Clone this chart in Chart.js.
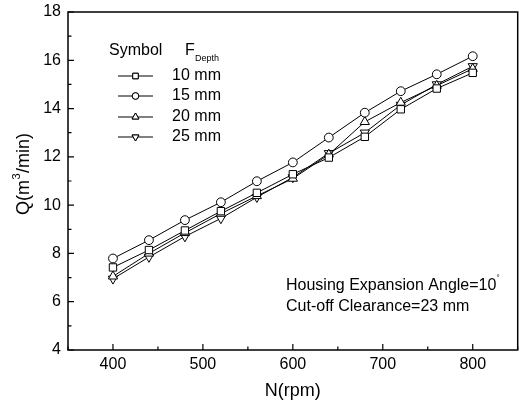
<!DOCTYPE html>
<html>
<head>
<meta charset="utf-8">
<script src="https://cdn.jsdelivr.net/npm/chart.js@4.4.1/dist/chart.umd.min.js"></script>
<style>
  html, body { margin: 0; padding: 0; background: #fff; }
  #wrap { width: 524px; height: 402px; position: relative; }
</style>
</head>
<body>
<div id="wrap"><canvas id="chart" width="524" height="402"></canvas></div>
<script>
// data
const speeds = [400, 440, 480, 520, 560, 600, 640, 680, 720, 760, 800];
const q10 = [7.42, 8.14, 8.95, 9.75, 10.51, 11.28, 11.97, 12.83, 13.97, 14.83, 15.48];
const q15 = [7.79, 8.55, 9.38, 10.12, 10.99, 11.77, 12.80, 13.83, 14.72, 15.42, 16.17];
const q20 = [7.05, 8.00, 8.85, 9.65, 10.38, 11.10, 12.10, 13.45, 14.25, 14.95, 15.65];
const q25 = [6.95, 7.85, 8.70, 9.45, 10.33, 11.15, 12.15, 13.00, 14.15, 15.00, 15.75];
const xTicks = [400, 500, 600, 700, 800];
const yTicks = [4, 6, 8, 10, 12, 14, 16, 18];
const depthLabels = ['10 mm', '15 mm', '20 mm', '25 mm'];

const FONT = '"Liberation Sans", Arial, sans-serif';

function pts(ys) {
  return speeds.map((x, i) => ({ x: x, y: ys[i] }));
}

function series(label, ys, style, radius, rot) {
  return {
    label: label,
    data: pts(ys),
    borderColor: '#000',
    borderWidth: 1,
    backgroundColor: '#fff',
    pointStyle: style,
    pointRadius: radius,
    pointRotation: rot || 0,
    pointBorderWidth: 1,
    pointBorderColor: '#000',
    pointBackgroundColor: '#fff',
    tension: 0
  };
}

const markers = [
  { style: 'rect', r: 5.2, rot: 0 },
  { style: 'circle', r: 4.4, rot: 0 },
  { style: 'triangle', r: 5.3, rot: 0 },
  { style: 'triangle', r: 5.3, rot: 180 }
];

// inward ticks, tick labels, frame, legend box and notes
const decor = {
  id: 'decor',
  afterDraw(chart) {
    const ctx = chart.ctx;
    const a = chart.chartArea;
    const xs = chart.scales.x, ys = chart.scales.y;
    ctx.save();
    ctx.strokeStyle = '#000';
    ctx.lineWidth = 1.5;
    ctx.strokeRect(a.left, a.top, a.right - a.left, a.bottom - a.top);

    ctx.lineWidth = 1.2;
    ctx.beginPath();
    for (let v = 350; v <= 850; v += 50) {
      const px = xs.getPixelForValue(v);
      const len = v % 100 === 0 ? 6 : 3.5;
      ctx.moveTo(px, a.bottom);
      ctx.lineTo(px, a.bottom - len);
    }
    for (let v = 4; v <= 18; v += 1) {
      const py = ys.getPixelForValue(v);
      const len = v % 2 === 0 ? 6 : 3.5;
      ctx.moveTo(a.left, py);
      ctx.lineTo(a.left + len, py);
    }
    ctx.stroke();

    // tick labels
    ctx.fillStyle = '#000';
    ctx.font = '16px ' + FONT;
    ctx.textBaseline = 'middle';
    ctx.textAlign = 'center';
    xTicks.forEach(v => ctx.fillText(String(v), xs.getPixelForValue(v), a.bottom + 15));
    ctx.textAlign = 'right';
    yTicks.forEach(v => ctx.fillText(String(v), a.left - 7, ys.getPixelForValue(v)));

    // legend
    ctx.font = '16px ' + FONT;
    ctx.textAlign = 'left';
    ctx.fillText('Symbol', 109, 51);
    ctx.fillText('F', 185, 51);
    ctx.font = '9px ' + FONT;
    ctx.fillText('Depth', 195, 59);
    const rowsY = [76, 96, 117, 137];
    rowsY.forEach((ry, i) => {
      ctx.lineWidth = 1;
      ctx.strokeStyle = '#000';
      ctx.beginPath();
      ctx.moveTo(118, ry);
      ctx.lineTo(153, ry);
      ctx.stroke();
      const m = markers[i];
      Chart.helpers.drawPoint(ctx, {
        pointStyle: m.style, radius: m.r * 0.75, rotation: m.rot,
        borderWidth: 1
      }, 135.5, ry);
      ctx.fillStyle = '#fff';
      ctx.fill();
      ctx.stroke();
      ctx.fillStyle = '#000';
      ctx.font = '16px ' + FONT;
      ctx.textAlign = 'right';
      ctx.fillText(depthLabels[i], 221, ry);
    });

    // notes
    ctx.textAlign = 'left';
    ctx.font = '16px ' + FONT;
    const line1 = 'Housing Expansion Angle=10';
    ctx.fillText(line1, 286, 286);
    const w1 = ctx.measureText(line1).width;
    ctx.font = '8px ' + FONT;
    ctx.fillText('°', 286 + w1, 278);
    ctx.font = '16px ' + FONT;
    ctx.fillText('Cut-off Clearance=23 mm', 286, 307);

    // y title with superscript
    ctx.translate(24, 174);
    ctx.rotate(-Math.PI / 2);
    ctx.textAlign = 'left';
    const p1 = 'Q(m', p2 = '/min)';
    ctx.font = '18px ' + FONT;
    const w1a = ctx.measureText(p1).width;
    ctx.font = '11px ' + FONT;
    const wsup = ctx.measureText('3').width + 1;
    ctx.font = '18px ' + FONT;
    const w2 = ctx.measureText(p2).width;
    const x0 = -(w1a + wsup + w2) / 2;
    ctx.fillText(p1, x0, 0);
    ctx.font = '11px ' + FONT;
    ctx.fillText('3', x0 + w1a + 0.5, -7);
    ctx.font = '18px ' + FONT;
    ctx.fillText(p2, x0 + w1a + wsup, 0);
    ctx.restore();
  }
};

new Chart(document.getElementById('chart'), {
  type: 'line',
  data: {
    datasets: [
      series('10 mm', q10, 'rect', 5.2, 0),
      series('15 mm', q15, 'circle', 4.4, 0),
      series('20 mm', q20, 'triangle', 5.3, 0),
      series('25 mm', q25, 'triangle', 5.3, 180)
    ]
  },
  options: {
    responsive: false,
    animation: false,
    events: [],
    layout: { padding: { top: 12, right: 3, left: 0, bottom: 0 } },
    plugins: { legend: { display: false }, tooltip: { enabled: false } },
    scales: {
      x: {
        type: 'linear',
        min: 350,
        max: 850,
        afterBuildTicks: s => { s.ticks = xTicks.map(v => ({ value: v })); },
        afterFit: s => { s.height = 52; },
        grid: { display: false, drawTicks: false },
        border: { display: false },
        ticks: { display: false },
        title: { display: true, text: 'N(rpm)', color: '#000', padding: { top: 0, bottom: 0 }, font: { family: FONT, size: 18 } }
      },
      y: {
        type: 'linear',
        min: 4,
        max: 18,
        afterBuildTicks: s => { s.ticks = yTicks.map(v => ({ value: v })); },
        afterFit: s => { s.width = 68; },
        grid: { display: false, drawTicks: false },
        border: { display: false },
        ticks: { display: false }
      }
    }
  },
  plugins: [decor]
});
</script>
</body>
</html>
